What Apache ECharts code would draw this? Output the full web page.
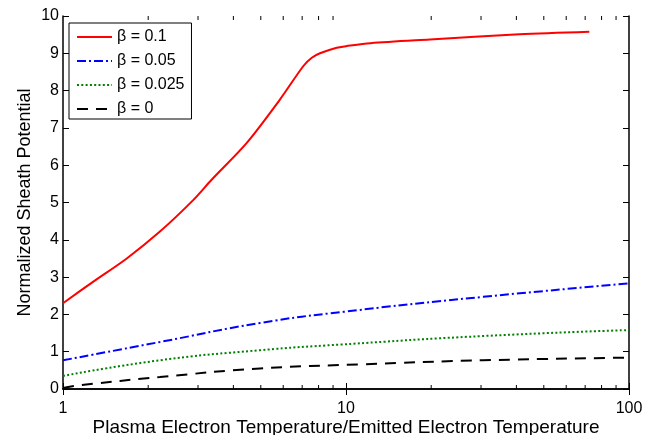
<!DOCTYPE html>
<html>
<head>
<meta charset="utf-8">
<script src="https://cdn.jsdelivr.net/npm/echarts@6/dist/echarts.min.js"></script>
<style>
html,body{margin:0;padding:0;background:#fff;overflow:hidden;}
#chart{width:653px;height:435px;}
</style>
</head>
<body>
<div id="chart"></div>
<script>
// ---- data ----
const seriesNames = ['β = 0.1', 'β = 0.05', 'β = 0.025', 'β = 0'];

const redX = [1, 1.28, 1.68, 2.2, 2.89, 3.35, 4.46, 5.84, 7.07, 7.57, 8.09, 9.27, 10, 12.2, 19.8, 41, 72.4];
const redY = [2.30, 2.88, 3.50, 4.22, 5.07, 5.61, 6.60, 7.76, 8.66, 8.88, 9.00, 9.15, 9.19, 9.27, 9.37, 9.51, 9.58];

const blueX = [1, 2.2, 4.97, 9.8, 30.5, 100];
const blueY = [0.77, 1.26, 1.77, 2.07, 2.47, 2.83];

const greenX = [1, 2.2, 4.97, 9.5, 30.5, 100];
const greenY = [0.35, 0.77, 1.04, 1.19, 1.42, 1.58];

const blackX = [1, 1.15, 2.2, 4.97, 11.2, 30.5, 100];
const blackY = [0.03, 0.10, 0.32, 0.55, 0.66, 0.77, 0.84];

const xTickLabels = [1, 10, 100];
const yTickLabels = [0, 1, 2, 3, 4, 5, 6, 7, 8, 9, 10];
const minorTickValues = [2, 3, 4, 5, 6, 7, 8, 9, 20, 30, 40, 50, 60, 70, 80, 90];

function pairs(xs, ys) { return xs.map((x, i) => [x, ys[i]]); }

const chart = echarts.init(document.getElementById('chart'), null, {renderer: 'canvas'});
const FONT = 'Liberation Sans, Arial, sans-serif';
const axisLine = {show: true, lineStyle: {color: '#000', width: 1.5}};
const tick = {show: true, inside: true, length: 6, lineStyle: {color: '#000', width: 1}};

const option = {
  backgroundColor: '#fff',
  animation: false,
  grid: {left: 63, right: 24, top: 16, bottom: 46, containLabel: false, outerBoundsMode: 'none'},
  legend: {
    data: seriesNames,
    orient: 'vertical',
    left: 69, top: 23,
    padding: [6, 7, 2, 7],
    itemWidth: 35, itemHeight: 14, itemGap: 8,
    backgroundColor: '#fff', borderColor: '#000', borderWidth: 1,
    itemStyle: {opacity: 0},
    textStyle: {fontFamily: FONT, fontSize: 16, color: '#000'},
    selectedMode: false
  },
  xAxis: [{
    type: 'log', logBase: 10, min: 1, max: 100,
    position: 'bottom',
    name: 'Plasma Electron Temperature/Emitted Electron Temperature',
    nameLocation: 'middle', nameGap: 29, nameMoveOverlap: false,
    nameTextStyle: {fontFamily: FONT, fontSize: 19, color: '#000'},
    axisLine: axisLine,
    axisTick: tick,
    axisLabel: {fontFamily: FONT, fontSize: 16, color: '#000', margin: 12,
      formatter: v => (xTickLabels.indexOf(Math.round(v)) >= 0 ? String(Math.round(v)) : '')},
    splitLine: {show: false}
  }, {
    type: 'log', logBase: 10, min: 1, max: 100,
    position: 'top',
    axisLine: axisLine,
    axisTick: tick,
    axisLabel: {show: false},
    splitLine: {show: false}
  }],
  yAxis: [{
    type: 'value', min: 0, max: 10, interval: 1,
    position: 'left',
    name: 'Normalized Sheath Potential',
    nameLocation: 'middle', nameGap: 29, nameMoveOverlap: false,
    nameTextStyle: {fontFamily: FONT, fontSize: 18, color: '#000'},
    axisLine: axisLine,
    axisTick: tick,
    axisLabel: {fontFamily: FONT, fontSize: 16, color: '#000', margin: 4,
      formatter: v => String(yTickLabels[Math.round(v)])},
    splitLine: {show: false}
  }, {
    type: 'value', min: 0, max: 10, interval: 1,
    position: 'right',
    axisLine: axisLine,
    axisTick: tick,
    axisLabel: {show: false},
    splitLine: {show: false}
  }],
  series: [
    {name: seriesNames[0], type: 'line', data: pairs(redX, redY), showSymbol: false, symbol: 'none',
     smooth: 0.3, lineStyle: {color: '#ff0000', width: 2}, itemStyle: {color: '#ff0000'}, z: 5},
    {name: seriesNames[1], type: 'line', data: pairs(blueX, blueY), showSymbol: false, symbol: 'none',
     smooth: true, lineStyle: {color: '#0000ff', width: 2, type: [9, 3, 2, 3]}, itemStyle: {color: '#0000ff'}, z: 4},
    {name: seriesNames[2], type: 'line', data: pairs(greenX, greenY), showSymbol: false, symbol: 'none',
     smooth: true, lineStyle: {color: '#008000', width: 2, type: [2, 2.3]}, itemStyle: {color: '#008000'}, z: 3},
    {name: seriesNames[3], type: 'line', data: pairs(blackX, blackY), showSymbol: false, symbol: 'none',
     smooth: true, lineStyle: {color: '#000000', width: 2, type: [11, 8]}, itemStyle: {color: '#000000'}, z: 2},
    {
      name: 'minorTicks', type: 'custom', silent: true, clip: false, z: 10,
      data: minorTickValues.map(v => [v]),
      encode: {x: 0},
      renderItem: function (params, api) {
        const v = api.value(0);
        const b = api.coord([v, 0]);
        const t = api.coord([v, 10]);
        return {
          type: 'group',
          children: [
            {type: 'line', shape: {x1: b[0], y1: b[1], x2: b[0], y2: b[1] - 4}, style: {stroke: '#000', lineWidth: 1}},
            {type: 'line', shape: {x1: t[0], y1: t[1], x2: t[0], y2: t[1] + 4}, style: {stroke: '#000', lineWidth: 1}}
          ]
        };
      }
    }
  ]
};
chart.setOption(option);
</script>
</body>
</html>
